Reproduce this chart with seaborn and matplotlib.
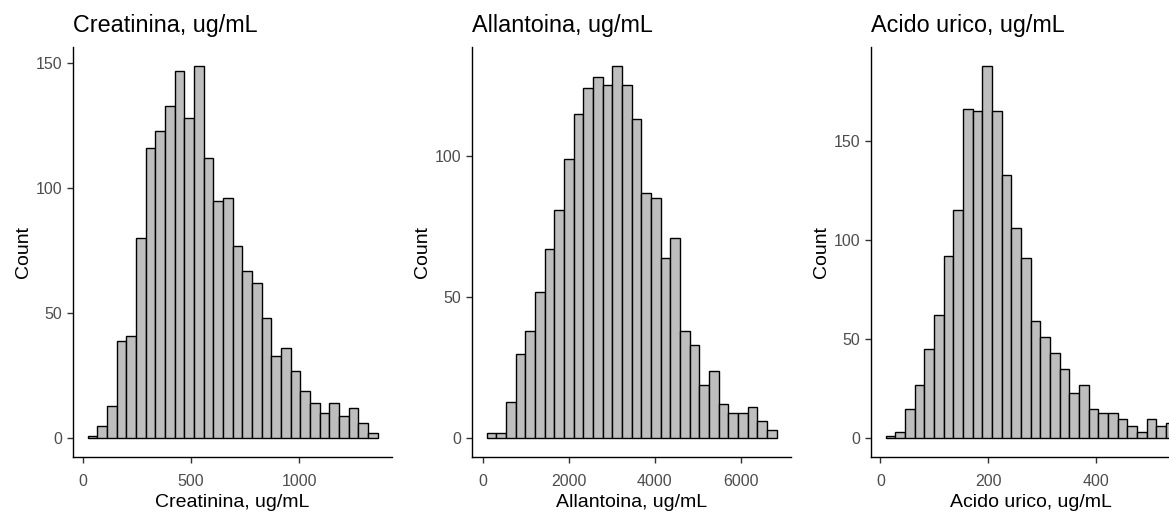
import numpy as np
import pandas as pd
import matplotlib
matplotlib.use("Agg")
import matplotlib.pyplot as plt
import seaborn as sns

# ---- data (counts per bin) ----
titles = ["Creatinina, ug/mL", "Allantoina, ug/mL", "Acido urico, ug/mL"]

creat_start, creat_width = 23.0, 44.6
creat_counts = [1, 5, 13, 39, 41, 80, 116, 123, 133, 147, 128, 149, 112, 95, 96,
                77, 67, 62, 48, 33, 36, 27, 19, 14, 10, 14, 9, 12, 6, 2]

allan_start, allan_width = 93.0, 224.8
allan_counts = [2, 2, 13, 30, 38, 52, 67, 81, 99, 115, 124, 128, 125, 132, 125,
                113, 87, 85, 64, 71, 38, 33, 19, 24, 12, 9, 9, 11, 6, 3]

urico_start, urico_width = 9.3, 17.95
urico_counts = [1, 3, 15, 27, 45, 62, 92, 115, 166, 165, 188, 165, 133, 106, 91,
                59, 51, 43, 35, 23, 27, 15, 13, 13, 10, 6, 3, 10, 6, 8]

x_ticks = [[0, 500, 1000], [0, 2000, 4000, 6000], [0, 200, 400, 600]]
y_ticks = [[0, 50, 100, 150], [0, 50, 100], [0, 50, 100, 150]]

series = [
    (creat_start, creat_width, creat_counts),
    (allan_start, allan_width, allan_counts),
    (urico_start, urico_width, urico_counts),
]

# ---- style ----
sns.set_style("ticks")
plt.rcParams["font.family"] = ["Liberation Sans", "DejaVu Sans"]

W, H = 1169, 512
fig = plt.figure(figsize=(W / 100, H / 100), dpi=100)

lefts = [73, 472, 871]
panel_w = 319
top_px, bottom_px = 47, 457

for i, (start, width, counts) in enumerate(series):
    ax = fig.add_axes([lefts[i] / W, (H - bottom_px) / H, panel_w / W,
                       (bottom_px - top_px) / H])
    n = len(counts)
    edges = [float(start + width * k) for k in range(n + 1)]
    centers = [(edges[k] + edges[k + 1]) / 2 for k in range(n)]
    df = pd.DataFrame({"x": centers, "w": counts})
    sns.histplot(data=df, x="x", weights="w", bins=edges, ax=ax,
                 color="#BEBEBE", alpha=1, edgecolor="black", linewidth=1.0)
    ax.set_xticks(x_ticks[i])
    ax.set_yticks(y_ticks[i])
    lo, hi = edges[0], edges[-1]
    pad = 0.05 * (hi - lo)
    ax.set_xlim(lo - pad, hi + pad)
    ymax = max(counts)
    ax.set_ylim(-0.05 * ymax, 1.05 * ymax)
    ax.tick_params(axis="both", labelsize=11.5, labelcolor="#4D4D4D",
                   color="#333333", length=4, width=1.0)
    ax.tick_params(axis="x", pad=8)
    ax.tick_params(axis="y", pad=4)
    for s in ["top", "right"]:
        ax.spines[s].set_visible(False)
    for s in ["left", "bottom"]:
        ax.spines[s].set_linewidth(1.0)
        ax.spines[s].set_color("black")
    ax.set_xlabel(titles[i], fontsize=14, color="black", labelpad=4)
    ax.set_ylabel("Count", fontsize=14, color="black", labelpad=2.5)
    ax.set_title(titles[i], loc="left", fontsize=16.8, color="black", pad=11)

fig.savefig("out.png", dpi=100)
